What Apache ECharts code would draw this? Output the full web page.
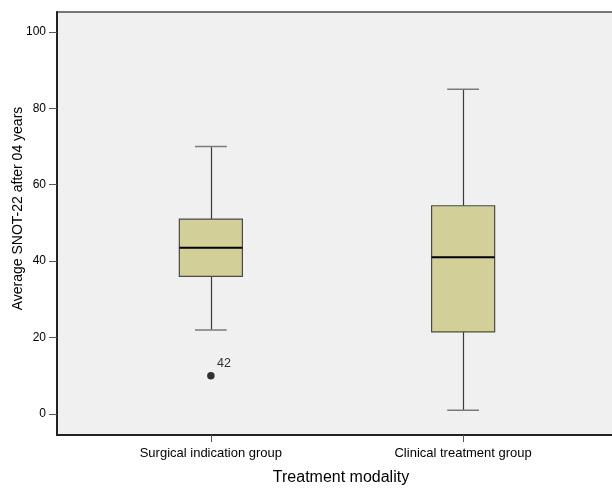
<!DOCTYPE html>
<html>
<head>
<meta charset="utf-8">
<script src="https://cdn.jsdelivr.net/npm/echarts@6/dist/echarts.min.js"></script>
<style>
html,body{margin:0;padding:0;background:#fff;}
#chart{width:612px;height:489px;}
</style>
</head>
<body>
<div id="chart"></div>
<script>
// Data
const categories = ['Surgical indication group', 'Clinical treatment group'];
const positions = [1, 2];
const whiskerLow = [22, 1];
const q1 = [36, 21.5];
const median = [43.5, 41];
const q3 = [51, 54.5];
const whiskerHigh = [70, 85];
const outlierPos = [1];
const outlierValue = [10];
const outlierLabel = ['42'];
const yTicks = [0, 20, 40, 60, 80, 100];

const boxData = positions.map((p, i) => [p, whiskerLow[i], q1[i], median[i], q3[i], whiskerHigh[i]]);
const outData = outlierPos.map((p, i) => ({ value: [p, outlierValue[i]], label: outlierLabel[i] }));

const BOX_HALF = 0.125;
const CAP_HALF = 0.063;
const FONT = '"Liberation Sans", Arial, Helvetica, sans-serif';

function renderBox(params, api) {
  const x = api.value(0);
  const lo = api.value(1), a = api.value(2), m = api.value(3), b = api.value(4), hi = api.value(5);
  const pc = api.coord([x, m]);
  const pl = api.coord([x - BOX_HALF, b]);
  const pr = api.coord([x + BOX_HALF, a]);
  const cl = api.coord([x - CAP_HALF, hi]);
  const cr = api.coord([x + CAP_HALF, lo]);
  const pHi = api.coord([x, hi]);
  const pLo = api.coord([x, lo]);
  const pB = api.coord([x, b]);
  const pA = api.coord([x, a]);
  const cx = Math.round(pc[0]) + 0.5;
  return {
    type: 'group',
    children: [
      { type: 'line', shape: { x1: cx, y1: pHi[1], x2: cx, y2: pB[1] }, style: { stroke: '#3a3a3a', lineWidth: 1.2 } },
      { type: 'line', shape: { x1: cx, y1: pA[1], x2: cx, y2: pLo[1] }, style: { stroke: '#3a3a3a', lineWidth: 1.2 } },
      { type: 'line', shape: { x1: cl[0], y1: pHi[1], x2: cr[0], y2: pHi[1] }, style: { stroke: '#7a7a7a', lineWidth: 1.5 } },
      { type: 'line', shape: { x1: cl[0], y1: pLo[1], x2: cr[0], y2: pLo[1] }, style: { stroke: '#7a7a7a', lineWidth: 1.5 } },
      { type: 'rect', shape: { x: pl[0], y: pl[1], width: pr[0] - pl[0], height: pr[1] - pl[1] }, style: { fill: '#d3cf98', stroke: '#4a4a4a', lineWidth: 1.2 } },
      { type: 'line', shape: { x1: pl[0], y1: pc[1], x2: pr[0], y2: pc[1] }, style: { stroke: '#000', lineWidth: 2 } }
    ]
  };
}

const chart = echarts.init(document.getElementById('chart'), null, { renderer: 'canvas' });
chart.setOption({
  animation: false,
  textStyle: { fontFamily: FONT },
  grid: {
    left: 57, width: 560, top: 12, bottom: 54,
    containLabel: false, outerBoundsMode: 'none',
    show: true, backgroundColor: '#f0f0f0', borderColor: '#777', borderWidth: 2
  },
  xAxis: {
    type: 'value', min: 0.39, max: 2.61,
    splitLine: { show: false },
    axisLine: { show: true, onZero: false, lineStyle: { color: '#222', width: 2 } },
    axisTick: { show: true, customValues: positions, length: 7, lineStyle: { color: '#555', width: 1 } },
    axisLabel: {
      customValues: positions, color: '#000', fontSize: 13, margin: 12, fontFamily: FONT,
      formatter: v => categories[positions.indexOf(Math.round(v))] || ''
    },
    name: 'Treatment modality', nameLocation: 'middle', nameGap: 35, nameMoveOverlap: false,
    nameTextStyle: { color: '#000', fontSize: 16, fontFamily: FONT, padding: [0, 0, 0, 8] }
  },
  yAxis: {
    type: 'value', min: -5.5, max: 105.2,
    splitLine: { show: false },
    axisLine: { show: true, onZero: false, lineStyle: { color: '#222', width: 2 } },
    axisTick: { show: true, customValues: yTicks, length: 8, lineStyle: { color: '#555', width: 1 } },
    axisLabel: { customValues: yTicks, color: '#000', fontSize: 12, margin: 11, fontFamily: FONT },
    name: 'Average SNOT-22 after 04 years', nameLocation: 'middle', nameGap: 32, nameRotate: 90,
    nameMoveOverlap: false,
    nameTextStyle: { color: '#000', fontSize: 14, fontFamily: FONT, padding: [0, 0, 0, 30] }
  },
  series: [
    {
      type: 'custom', renderItem: renderBox, data: boxData,
      encode: { x: 0, y: [1, 2, 3, 4, 5] }, clip: true, silent: true
    },
    {
      type: 'scatter', data: outData, symbol: 'circle', symbolSize: 7.5,
      itemStyle: { color: '#000' },
      label: {
        show: true, formatter: p => p.data.label, position: [10, -15],
        color: '#000', fontSize: 12.5, fontFamily: FONT
      },
      silent: true
    }
  ]
});
</script>
</body>
</html>
